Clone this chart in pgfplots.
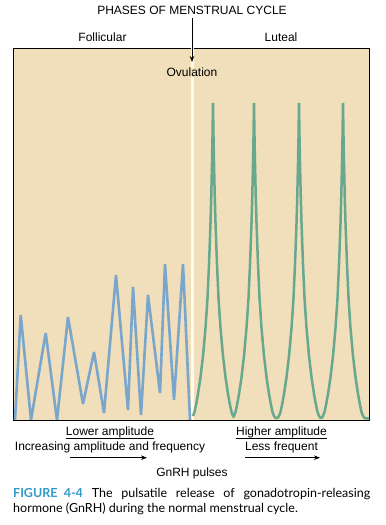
\documentclass[border=0pt]{standalone}
\usepackage{fontspec}
\setmainfont{Liberation Sans}
\newfontfamily\capfont{Lato}
\usepackage{pgfplots}
\pgfplotsset{compat=1.18}
\usetikzlibrary{arrows.meta}
\definecolor{bg}{RGB}{240,223,186}
\definecolor{pulseblue}{RGB}{122,166,204}
\definecolor{pulsegreen}{RGB}{104,168,142}
\definecolor{capblue}{RGB}{52,152,200}
\definecolor{ovul}{RGB}{255,251,236}
\begin{document}
\begin{tikzpicture}[x=1bp,y=1bp]
\path[use as bounding box] (0,0) rectangle (385,525);
\begin{axis}[
  at={(13bp,105bp)}, anchor=south west,
  scale only axis, width=356bp, height=372bp,
  xmin=13, xmax=369, ymin=0, ymax=372,
  xtick=\empty, ytick=\empty,
  axis line style={black, line width=0.8bp},
  axis background/.style={fill=bg},
  clip=true,
]
\addplot[ovul, line width=3bp] coordinates {(192,0) (192,372)};
\addplot[pulseblue, line width=2.6bp, line join=miter, miter limit=3] coordinates {
(15,0) (20.7,105) (31,0) (45.7,87) (57,0) (68,103) (83,16) (94,68) (104,7)
(116,145) (128,10) (133,133) (141,5) (148,125) (160,27) (165,156) (174,20)
(183,156) (190,0)};
\addplot[pulsegreen, line width=2.5bp, line join=miter, miter limit=2] coordinates {
(193,4) (194.5,8) (196,15) (198,26) (200.4,42) (203,64) (205.5,92) (207.5,122) (209.1,158) (210.5,197) (211.3,225) (212,257) (212.5,283) (213,317)
(213.5,283) (214,257) (214.7,225) (215.5,197) (216.9,158) (218.5,122) (220.5,92) (223,64) (225.6,42) (228,26) (230,15) (231.5,8) (233,4) (233.5,3.5)
(234,4) (235.5,8) (237,15) (239,26) (241.4,42) (244,64) (246.5,92) (248.5,122) (250.1,158) (251.5,197) (252.3,225) (253,257) (253.5,283) (254,317)
(254.5,283) (255,257) (255.7,225) (256.5,197) (257.9,158) (259.5,122) (261.5,92) (264,64) (266.6,42) (269,26) (271,15) (272.5,8) (274,4) (275.5,2) (276.5,2)
(277.5,2) (279,4) (280.5,8) (282,15) (284,26) (286.4,42) (289,64) (291.5,92) (293.5,122) (295.1,158) (296.5,197) (297.3,225) (298,257) (298.5,283) (299,317)
(299.5,283) (300,257) (300.7,225) (301.5,197) (302.9,158) (304.5,122) (306.5,92) (309,64) (311.6,42) (314,26) (316,15) (317.5,8) (319,4) (320.5,2) (321,2)
(321.5,2) (323,4) (324.5,8) (326,15) (328,26) (330.4,42) (333,64) (335.5,92) (337.5,122) (339.1,158) (340.5,197) (341.3,225) (342,257) (342.5,283) (343,317)
(343.5,283) (344,257) (344.7,225) (345.5,197) (346.9,158) (348.5,122) (350.5,92) (353,64) (355.6,42) (358,26) (360,15) (361.5,8) (363,4) (364.5,2) (367,1.5) (369,2)};
\end{axis}
\fontsize{12bp}{14bp}\selectfont
\node[anchor=base, inner sep=0] at (192,510) {PHASES OF MENSTRUAL CYCLE};
\draw[line width=0.7bp, -{Stealth[length=6bp,width=4.5bp]}] (192,507) -- (192,463);
\node[anchor=base, inner sep=0] at (102.5,483) {Follicular};
\node[anchor=base, inner sep=0] at (281,483) {Luteal};
\node[anchor=base, inner sep=0, fill=bg, inner xsep=1bp] at (192,448) {Ovulation};
\node[anchor=base, inner sep=0] (la) at (110,89.3) {Lower amplitude};
\draw[line width=0.6bp] ([yshift=-2.6bp]la.base west) -- ([yshift=-2.6bp]la.base east);
\node[anchor=base, inner sep=0] at (110,74) {Increasing amplitude and frequency};
\draw[line width=0.7bp, -{Stealth[length=6bp,width=4.5bp]}] (70,67.3) -- (147,67.3);
\node[anchor=base, inner sep=0] (ha) at (281.5,89.3) {Higher amplitude};
\draw[line width=0.6bp] ([yshift=-2.6bp]ha.base west) -- ([yshift=-2.6bp]ha.base east);
\node[anchor=base, inner sep=0] at (281.5,74) {Less frequent};
\draw[line width=0.7bp, -{Stealth[length=6bp,width=4.5bp]}] (245,67.3) -- (320,67.3);
\node[anchor=base, inner sep=0] at (192,48.3) {GnRH pulses};
\node[anchor=base west, inner sep=0] at (13,27.5) {\capfont\fontsize{12.5bp}{15bp}\selectfont\makebox[357bp][s]{{\color{capblue}\bfseries FIGURE\hspace{0.5em}4-4} The pulsatile release of gonadotropin-releasing}};
\node[anchor=base west, inner sep=0] at (13,12.3) {\capfont\fontsize{12.5bp}{15bp}\selectfont hormone (GnRH) during the normal menstrual cycle.};
\end{tikzpicture}
\end{document}
